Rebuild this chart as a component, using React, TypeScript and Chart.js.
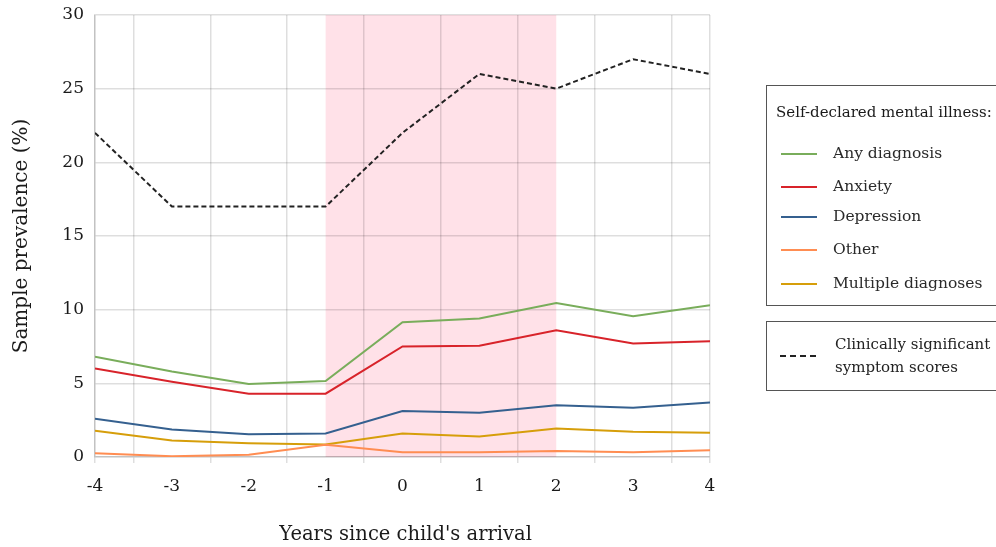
import React, { useEffect, useRef } from 'react';
import { Chart, registerables } from 'chart.js';

Chart.register(...registerables);

const years = [-4, -3, -2, -1, 0, 1, 2, 3, 4];
const anyDiagnosis = [6.8, 5.8, 4.95, 5.15, 9.15, 9.4, 10.45, 9.55, 10.3];
const anxiety = [6.0, 5.1, 4.3, 4.3, 7.5, 7.55, 8.6, 7.7, 7.85];
const depression = [2.6, 1.87, 1.55, 1.6, 3.12, 3.0, 3.52, 3.35, 3.7];
const other = [0.26, 0.05, 0.15, 0.83, 0.33, 0.33, 0.4, 0.33, 0.46];
const multiple = [1.78, 1.12, 0.94, 0.85, 1.6, 1.39, 1.94, 1.71, 1.64];
const clinical = [22, 17, 17, 17, 22, 26, 25, 27, 26];

const yTicks = [0, 5, 10, 15, 20, 25, 30];
const bandStart = -1;
const bandEnd = 2;

const seriesNames = ['Any diagnosis', 'Anxiety', 'Depression', 'Other', 'Multiple diagnoses'];
const seriesColors = ['#79ad5b', '#d8232a', '#35608f', '#ff8d52', '#d69e0a'];
const seriesValues = [anyDiagnosis, anxiety, depression, other, multiple];
const clinicalName = 'Clinically significant symptom scores';
const legendTitle = 'Self-declared mental illness:';

const FONT = '"DejaVu Serif", "Liberation Serif", serif';
const GRID = 'rgba(0,0,0,0.13)';
const TEXT = '#1a1a1a';

const bandPlugin = {
  id: 'band',
  beforeDraw(chart: any) {
    const { ctx, chartArea, scales } = chart;
    const x0 = scales.x.getPixelForValue(bandStart);
    const x1 = scales.x.getPixelForValue(bandEnd);
    ctx.save();
    ctx.fillStyle = '#ffe1e8';
    ctx.fillRect(x0, chartArea.top, x1 - x0, chartArea.bottom - chartArea.top);
    ctx.restore();
  },
};

export default function App() {
  const ref = useRef<HTMLCanvasElement | null>(null);

  useEffect(() => {
    if (!ref.current) return;
    const gridTicks: number[] = [];
    years.forEach((y, i) => {
      gridTicks.push(y);
      if (i < years.length - 1) gridTicks.push((y + years[i + 1]) / 2);
    });
    const minX = years[0];
    const maxX = years[years.length - 1];
    const isGridTick = (v: number) => !Number.isInteger(v) || v === minX || v === maxX;

    const datasets: any[] = seriesValues.map((vals, i) => ({
      label: seriesNames[i],
      data: years.map((x, j) => ({ x, y: vals[j] })),
      borderColor: seriesColors[i],
      backgroundColor: seriesColors[i],
      borderWidth: 2,
      pointRadius: 0,
      tension: 0,
      fill: false,
    }));
    datasets.push({
      label: clinicalName,
      data: years.map((x, j) => ({ x, y: clinical[j] })),
      borderColor: '#222',
      backgroundColor: '#222',
      borderWidth: 2,
      borderDash: [5, 3],
      pointRadius: 0,
      tension: 0,
      fill: false,
    });

    const chart = new Chart(ref.current, {
      type: 'line',
      data: { datasets },
      plugins: [bandPlugin],
      options: {
        animation: false,
        responsive: false,
        maintainAspectRatio: false,
        layout: { padding: { top: 15, right: 286, left: 0, bottom: 0 } },
        plugins: { legend: { display: false }, tooltip: { enabled: false } },
        scales: {
          x: {
            type: 'linear',
            min: minX,
            max: maxX,
            afterBuildTicks: (s: any) => {
              s.ticks = gridTicks.map((v) => ({ value: v }));
            },
            afterFit: (s: any) => {
              s.height = 90;
              s.paddingLeft = 0;
              s.paddingRight = 0;
            },
            grid: {
              color: (c: any) => (isGridTick(c.tick.value) ? GRID : 'rgba(0,0,0,0)'),
              tickColor: (c: any) => (isGridTick(c.tick.value) ? GRID : 'rgba(0,0,0,0)'),
              tickLength: 6,
              lineWidth: 1.5,
            },
            border: { color: GRID, width: 1.5 },
            ticks: {
              autoSkip: false,
              maxRotation: 0,
              padding: 13,
              color: TEXT,
              font: { family: FONT, size: 17 },
              callback: (v: any) => (Number.isInteger(Number(v)) ? String(v) : ''),
            },
            title: {
              display: true,
              text: "\u00a0Years since child's arrival",
              color: TEXT,
              font: { family: FONT, size: 19.5 },
              padding: { top: 0, bottom: 0 },
            },
          },
          y: {
            type: 'linear',
            min: 0,
            max: 30,
            afterBuildTicks: (s: any) => {
              s.ticks = yTicks.map((v) => ({ value: v }));
            },
            afterFit: (s: any) => {
              s.width = 95;
              s.paddingTop = 0;
              s.paddingBottom = 0;
            },
            grid: { color: GRID, drawTicks: false, lineWidth: 1.5 },
            border: { color: GRID, width: 1.5 },
            ticks: {
              padding: 11,
              color: TEXT,
              font: { family: FONT, size: 17 },
            },
            title: {
              display: true,
              text: 'Sample prevalence (%)',
              color: TEXT,
              font: { family: FONT, size: 20 },
              padding: { top: 10, bottom: 0 },
            },
          },
        },
      } as any,
    });
    return () => chart.destroy();
  }, []);

  const itemTops = [154, 187, 217, 250, 284];

  return (
    <div style={{ position: 'fixed', left: 0, top: 0, width: 996, height: 547, background: '#fff', overflow: 'hidden', fontFamily: FONT, color: TEXT }}>
      <canvas ref={ref} width={996} height={547} style={{ position: 'absolute', left: 0, top: 0, width: 996, height: 547 }} />
      <div style={{ position: 'absolute', left: 766, top: 85, width: 260, height: 221, border: '1.5px solid #555', boxSizing: 'border-box' }} />
      <div style={{ position: 'absolute', left: 776, top: 102, fontSize: 15, whiteSpace: 'nowrap', lineHeight: '20px' }}>{legendTitle}</div>
      {seriesNames.map((n, i) => (
        <React.Fragment key={n}>
          <div style={{ position: 'absolute', left: 781, top: itemTops[i] - 1, width: 36, height: 2, background: seriesColors[i] }} />
          <div style={{ position: 'absolute', left: 833, top: itemTops[i] - 11, fontSize: 15.5, whiteSpace: 'nowrap', lineHeight: '20px', color: '#2a2a2a' }}>{n}</div>
        </React.Fragment>
      ))}
      <div style={{ position: 'absolute', left: 766, top: 321, width: 260, height: 70, border: '1.5px solid #555', boxSizing: 'border-box' }} />
      <div style={{ position: 'absolute', left: 780, top: 355, width: 36, height: 0, borderTop: '2px dashed #222' }} />
      <div style={{ position: 'absolute', left: 835, top: 333, fontSize: 15, lineHeight: '23px', width: 170, color: '#222', whiteSpace: 'nowrap' }}>
        {clinicalName.split(' ').slice(0, 2).join(' ')}
        <br />
        {clinicalName.split(' ').slice(2).join(' ')}
      </div>
    </div>
  );
}
